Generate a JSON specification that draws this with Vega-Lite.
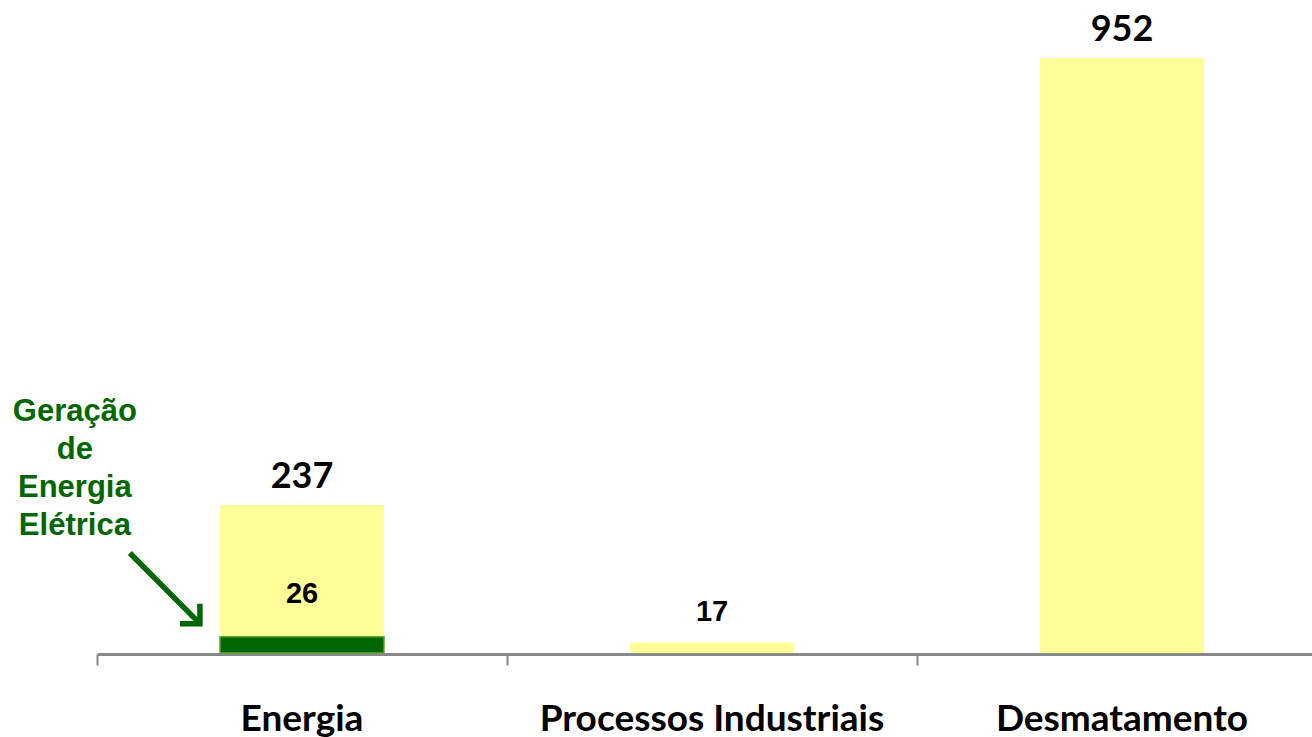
{
  "$schema": "https://vega.github.io/schema/vega-lite/v6.json",
  "width": 1230,
  "height": 595,
  "autosize": {"type": "none"},
  "padding": {"left": 97, "top": 58, "right": 0, "bottom": 84},
  "background": "white",
  "config": {"view": {"stroke": null}},
  "datasets": {
    "setores": [
      {"setor": "Energia", "valor": 237},
      {"setor": "Processos Industriais", "valor": 17},
      {"setor": "Desmatamento", "valor": 952}
    ],
    "sub": [
      {"setor": "Energia", "parte": "Geração de Energia Elétrica", "valor": 26}
    ]
  },
  "layer": [
    {
      "encoding": {
        "x": {
          "field": "setor", "type": "nominal",
          "sort": ["Energia", "Processos Industriais", "Desmatamento"],
          "scale": {"paddingInner": 0.6, "paddingOuter": 0.3},
          "axis": {
            "orient": "bottom", "bandPosition": -0.75, "offset": 1,
            "domainColor": "#888888", "domainWidth": 3,
            "tickColor": "#888888", "tickWidth": 2, "tickSize": 11,
            "title": null, "labelAngle": 0, "labelFont": "Lato", "labelFontWeight": "bold",
            "labelFontSize": 37, "labelColor": "black", "labelPadding": 65,
            "labelBaseline": "alphabetic", "labelLimit": 600, "labelOverlap": false
          }
        },
        "y": {
          "field": "valor", "type": "quantitative",
          "scale": {"domain": [0, 952], "nice": false},
          "axis": null
        }
      },
      "layer": [
        {
          "data": {"name": "setores"},
          "mark": {"type": "bar", "color": "#FFFF99"}
        },
        {
          "data": {"name": "sub"},
          "mark": {"type": "bar", "color": "#006600", "stroke": "#66A22A", "strokeWidth": 1.5}
        },
        {
          "data": {"name": "setores"},
          "transform": [{"filter": "datum.valor > 100"}],
          "mark": {"type": "text", "font": "Lato", "fontWeight": "bold", "fontSize": 36, "baseline": "alphabetic", "dy": -17, "color": "black"},
          "encoding": {"text": {"field": "valor", "type": "quantitative"}}
        },
        {
          "data": {"name": "setores"},
          "transform": [{"filter": "datum.valor < 100"}],
          "mark": {"type": "text", "font": "Liberation Sans", "fontWeight": "bold", "fontSize": 29, "baseline": "alphabetic", "dy": -21, "color": "black"},
          "encoding": {"text": {"field": "valor", "type": "quantitative"}}
        },
        {
          "data": {"name": "sub"},
          "mark": {"type": "text", "font": "Liberation Sans", "fontWeight": "bold", "fontSize": 29, "baseline": "alphabetic", "dy": -34, "color": "black"},
          "encoding": {"text": {"field": "valor", "type": "quantitative"}}
        }
      ]
    },
    {
      "data": {"name": "sub"},
      "layer": [
        {
          "mark": {"type": "rule", "color": "#006600", "strokeWidth": 5.5, "strokeCap": "butt"},
          "encoding": {
            "x": {
              "datum": 0.08, "type": "quantitative",
              "scale": {"domain": [0, 3], "nice": false, "zero": false},
              "axis": null
            },
            "y": {"datum": 160, "type": "quantitative", "axis": null},
            "x2": {"datum": 0.248},
            "y2": {"datum": 49}
          }
        },
        {
          "mark": {"type": "point", "shape": "M -1 -1 L 0 0 L -1 1", "filled": false, "fill": null, "stroke": "#006600", "strokeWidth": 5.5, "size": 800, "angle": 45, "strokeJoin": "miter", "opacity": 1},
          "encoding": {
            "x": {"datum": 0.251, "type": "quantitative"},
            "y": {"datum": 47, "type": "quantitative"}
          }
        },
        {
          "mark": {"type": "text", "font": "Liberation Sans", "fontWeight": "bold", "fontSize": 31, "color": "#006600", "align": "center", "baseline": "alphabetic", "lineBreak": " ", "lineHeight": 38},
          "encoding": {
            "x": {"datum": -0.054, "type": "quantitative"},
            "y": {"datum": 372, "type": "quantitative"},
            "text": {"field": "parte", "type": "nominal"}
          }
        }
      ]
    }
  ],
  "resolve": {"scale": {"x": "independent"}}
}
